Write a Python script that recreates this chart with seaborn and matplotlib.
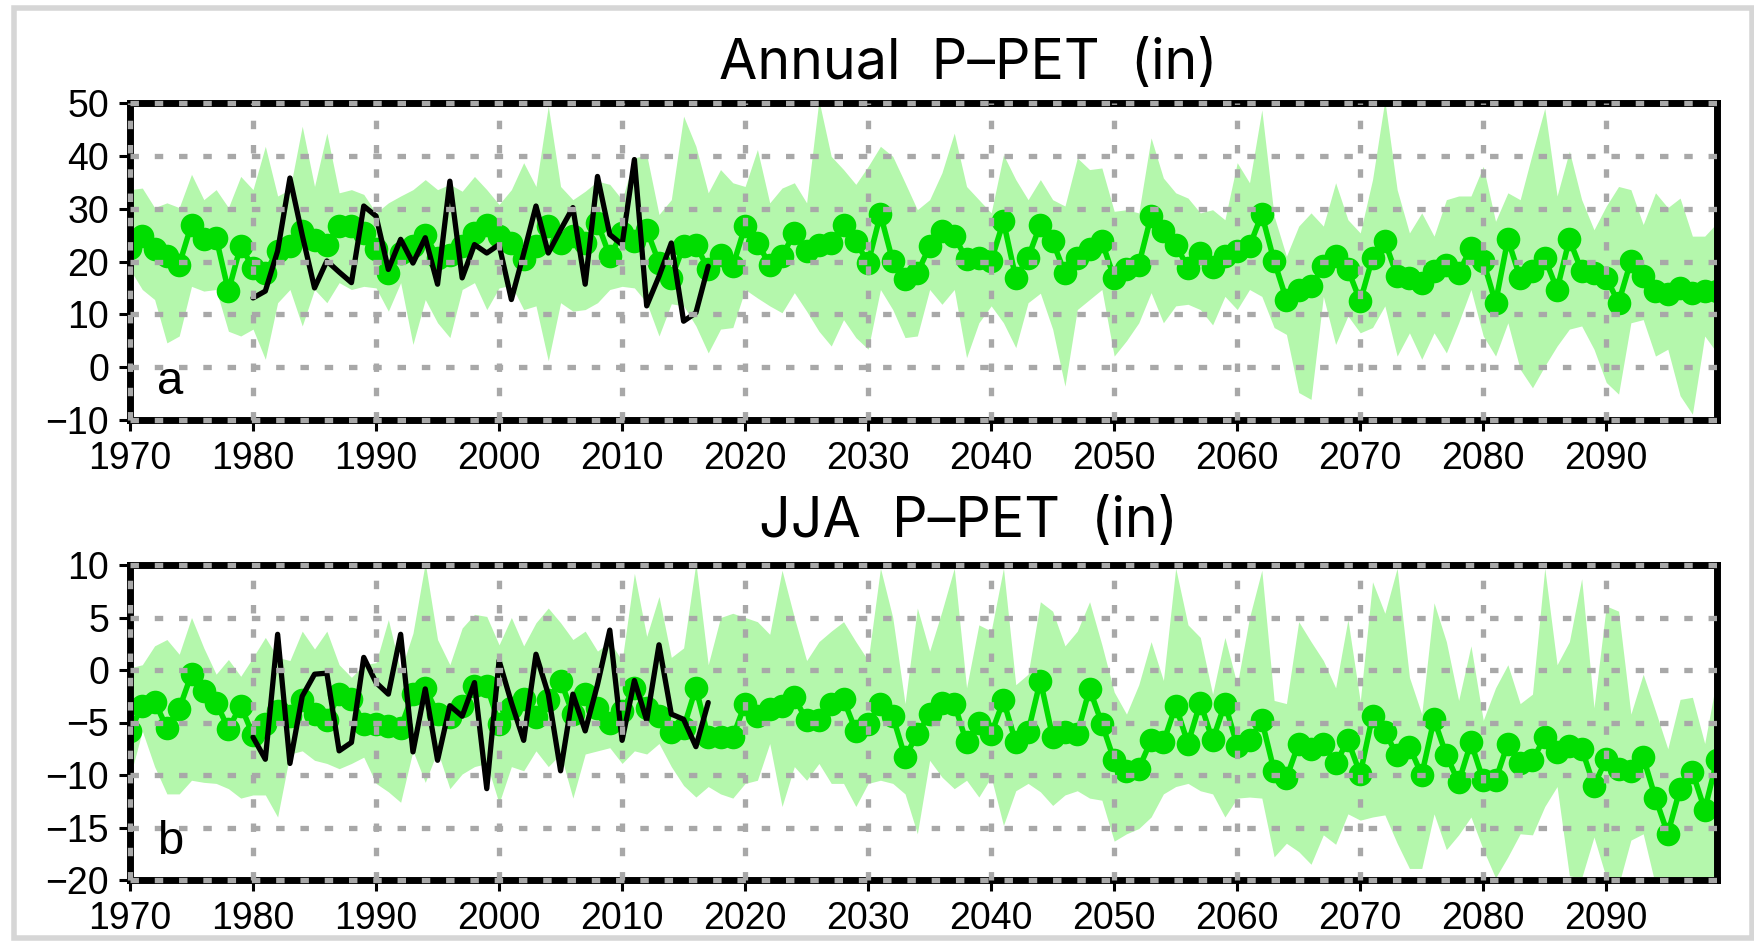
import numpy as np
import matplotlib
matplotlib.use("Agg")
import matplotlib.pyplot as plt
import matplotlib.patches as mpatches
import seaborn as sns

sns.set_style("white")
plt.rcParams['font.family'] = ['Liberation Sans', 'DejaVu Sans']
plt.rcParams['text.color'] = 'black'
plt.rcParams['xtick.color'] = 'black'
plt.rcParams['ytick.color'] = 'black'

years = np.arange(1970, 2100)
obs_years = np.arange(1980, 2018)

# ---- Annual P-PET ----
ann_mean = [
    22.5, 24.8, 22.3, 21.0, 19.4, 27.0, 24.2, 24.5, 14.4, 23.0,
    18.8, 17.9, 22.0, 22.9, 25.7, 24.0, 23.2, 26.7, 26.7, 25.4,
    22.3, 17.9, 21.6, 22.9, 25.1, 20.7, 21.3, 22.9, 25.4, 27.0,
    24.8, 23.5, 20.4, 22.9, 26.7, 23.5, 24.8, 23.5, 27.3, 21.0,
    25.4, 23.8, 26.0, 19.8, 16.8, 22.9, 23.2, 18.5, 21.3, 19.1,
    26.7, 23.5, 19.4, 21.0, 25.4, 22.0, 23.2, 23.5, 27.0, 23.8,
    19.7, 28.9, 20.1, 16.6, 17.8, 22.9, 25.7, 24.8, 20.4, 20.7,
    20.1, 27.6, 16.9, 20.7, 27.0, 23.8, 17.8, 20.7, 22.3, 23.8,
    16.9, 18.5, 19.4, 28.6, 25.7, 23.2, 18.8, 21.6, 19.0, 21.0,
    22.0, 22.9, 28.9, 20.1, 12.8, 14.7, 15.3, 19.1, 21.0, 18.5,
    12.5, 20.7, 23.8, 17.2, 16.9, 16.0, 18.2, 19.4, 17.8, 22.6,
    20.1, 12.2, 24.2, 16.9, 18.2, 20.7, 14.7, 24.2, 18.2, 17.8,
    16.9, 12.2, 20.1, 17.2, 14.4, 13.8, 15.0, 14.1, 14.4, 14.4,
]
ann_hi = [
    33.6, 33.9, 30.2, 31.1, 30.2, 36.5, 31.7, 33.6, 30.2, 36.1,
    33.6, 41.8, 32.4, 33.6, 45.6, 34.2, 44.3, 33.0, 33.6, 32.7,
    29.2, 31.1, 32.4, 33.6, 35.5, 33.6, 34.6, 33.3, 36.1, 33.6,
    30.8, 33.6, 38.7, 34.2, 49.4, 34.2, 31.7, 33.3, 35.2, 34.6,
    31.7, 39.6, 40.2, 28.9, 31.7, 47.5, 41.8, 33.0, 37.4, 34.9,
    34.2, 41.2, 31.1, 33.9, 34.9, 31.1, 50.5, 39.9, 37.4, 34.6,
    38.0, 41.8, 39.9, 34.9, 29.8, 31.7, 36.8, 44.3, 34.2, 31.7,
    29.2, 40.2, 35.5, 31.7, 35.5, 31.7, 30.5, 39.6, 37.4, 37.7,
    29.5, 29.8, 29.2, 43.4, 35.8, 33.0, 32.0, 29.2, 29.8, 27.9,
    38.7, 34.9, 48.7, 28.6, 21.0, 26.7, 29.2, 26.7, 34.9, 27.9,
    25.4, 35.5, 50.5, 33.6, 25.4, 29.2, 24.8, 31.7, 32.4, 32.4,
    38.0, 27.6, 33.0, 31.7, 40.5, 49.0, 32.4, 40.9, 31.7, 26.0,
    30.5, 34.2, 33.6, 27.0, 33.0, 30.2, 32.0, 24.8, 24.8, 27.3,
]
ann_lo = [
    18.5, 14.7, 12.8, 4.6, 5.9, 15.3, 14.4, 14.7, 6.8, 5.9,
    7.2, 1.5, 12.2, 14.7, 7.8, 14.7, 12.2, 16.0, 14.7, 15.3,
    15.0, 10.6, 16.0, 4.3, 12.8, 8.4, 5.6, 14.7, 16.0, 10.9,
    15.0, 15.5, 10.9, 11.6, 1.2, 12.2, 10.6, 10.9, 12.2, 14.7,
    15.3, 15.0, 12.2, 5.9, 12.0, 11.6, 7.8, 2.7, 7.2, 7.5,
    14.7, 13.1, 11.6, 10.3, 14.1, 10.6, 6.8, 4.0, 9.0, 5.6,
    3.4, 14.7, 10.9, 5.6, 5.9, 14.7, 11.9, 14.7, 1.8, 8.4,
    11.6, 8.4, 3.7, 12.2, 14.0, 7.2, -3.6, 10.9, 12.8, 14.7,
    2.1, 5.0, 8.4, 14.1, 8.4, 11.6, 11.9, 10.9, 8.0, 13.4,
    10.9, 14.7, 13.4, 7.5, 6.2, -4.8, -6.1, 13.4, 4.3, 9.7,
    6.5, 7.5, 11.6, 2.1, 6.5, 1.5, 6.5, 2.7, 8.4, 14.7,
    5.9, 2.1, 8.4, -0.4, -3.9, 0.2, 4.0, 7.2, 7.8, 3.4,
    -2.9, -5.1, 8.4, 9.0, 2.1, 3.4, -5.4, -8.9, 5.9, 2.7,
]
ann_obs = [
    13.1, 14.4, 22.0, 35.8, 25.0, 15.0, 20.1, 18.0, 16.0, 30.5,
    28.6, 18.5, 24.2, 19.7, 24.5, 15.7, 35.2, 16.9, 23.2, 21.6,
    23.2, 12.8, 21.5, 30.5, 21.6, 26.0, 30.2, 15.7, 36.1, 25.1,
    23.2, 39.3, 11.6, 17.2, 23.5, 8.7, 10.3, 19.1,
]

# ---- JJA P-PET ----
jja_mean = [
    -5.8, -3.4, -3.0, -5.5, -3.7, -0.4, -2.0, -3.1, -5.6, -3.4,
    -6.2, -5.1, -3.9, -4.4, -2.9, -4.2, -4.8, -2.3, -2.8, -5.1,
    -5.1, -5.3, -5.5, -2.3, -1.7, -4.2, -4.5, -3.4, -1.5, -1.5,
    -5.1, -3.6, -2.8, -4.5, -2.9, -1.0, -4.2, -2.3, -3.6, -5.0,
    -3.9, -1.7, -3.6, -4.4, -5.9, -5.5, -1.7, -6.4, -6.4, -6.4,
    -3.2, -4.4, -3.7, -3.4, -2.6, -4.8, -4.8, -3.2, -2.8, -5.8,
    -5.1, -3.2, -4.4, -8.3, -6.1, -4.2, -3.1, -3.2, -6.9, -5.0,
    -6.1, -2.9, -6.9, -5.9, -1.0, -6.4, -5.9, -6.1, -1.8, -5.1,
    -8.6, -9.6, -9.4, -6.7, -6.9, -3.4, -7.0, -3.1, -6.7, -3.2,
    -7.2, -6.7, -4.8, -9.6, -10.3, -7.0, -7.5, -7.0, -8.9, -6.7,
    -9.9, -4.4, -5.9, -8.1, -7.3, -10.0, -4.7, -8.1, -10.7, -6.9,
    -10.5, -10.5, -7.0, -8.9, -8.6, -6.4, -7.8, -7.2, -7.5, -11.0,
    -8.5, -9.4, -9.6, -8.3, -12.2, -15.6, -11.3, -9.7, -13.3, -8.6,
]
jja_hi = [
    0.2, 0.5, 2.3, 2.9, 1.5, 5.0, 2.1, -0.4, 1.0, -0.6,
    1.2, 3.1, 1.2, 0.9, 3.7, 2.0, 3.7, 0.5, -0.7, 0.5,
    0.7, 4.8, -0.1, 3.5, 10.2, 2.9, 0.5, 4.0, 5.3, 5.1,
    2.4, 5.0, 2.3, 4.5, 5.9, 4.5, 2.9, 3.7, 1.8, 2.7,
    0.9, 9.2, 3.2, 7.0, 1.2, 2.1, 10.2, 0.5, 5.0, 5.4,
    5.0, 4.6, 3.4, 9.5, 5.0, 0.9, 2.7, 3.7, 4.6, 2.7,
    0.9, 9.7, 5.0, -3.2, 5.9, 1.8, 5.6, 9.7, -1.7, 4.3,
    3.7, 9.7, -1.4, -0.4, 6.5, 5.6, 2.3, 3.7, 6.5, 2.4,
    -2.1, -4.2, -1.4, 2.7, -1.0, 9.7, 4.3, 3.1, -2.3, 3.1,
    -1.4, 5.0, 9.5, -2.9, -3.2, 4.6, 2.7, 0.9, -1.7, 4.8,
    -3.0, 8.4, 5.4, 9.7, -0.7, -4.2, 6.4, 2.7, -2.9, 2.3,
    -4.8, -1.7, 0.5, -3.2, -2.3, 9.7, 0.5, 2.7, 8.7, -3.6,
    6.1, 5.6, -4.2, -0.4, -3.9, -7.5, -2.8, -2.6, -7.0, -0.7,
]
jja_lo = [
    -10.2, -5.8, -9.2, -11.8, -11.8, -10.5, -10.7, -10.8, -11.3, -12.2,
    -11.9, -11.9, -14.0, -8.0, -7.7, -8.6, -8.9, -9.4, -8.9, -8.3,
    -10.8, -11.6, -12.6, -7.7, -10.7, -7.7, -11.3, -9.9, -9.2, -8.9,
    -12.7, -9.2, -9.6, -7.7, -9.2, -8.0, -12.2, -8.0, -7.7, -7.4,
    -8.9, -7.7, -8.0, -7.0, -9.2, -11.0, -12.1, -11.1, -11.8, -12.2,
    -10.8, -10.5, -7.0, -13.0, -9.2, -10.5, -8.9, -10.8, -10.8, -13.0,
    -10.8, -10.5, -10.8, -11.8, -15.6, -8.6, -10.2, -11.3, -10.5, -12.1,
    -10.2, -14.8, -11.5, -10.8, -11.6, -12.9, -11.9, -11.5, -12.2, -12.4,
    -16.3, -15.6, -15.1, -14.0, -11.8, -11.1, -10.8, -11.5, -11.8, -14.0,
    -12.2, -12.1, -12.2, -17.8, -16.5, -17.3, -18.5, -15.7, -16.6, -13.7,
    -14.3, -14.0, -13.8, -16.5, -18.9, -18.9, -13.7, -17.1, -15.7, -14.0,
    -17.1, -19.8, -17.8, -15.6, -15.7, -13.0, -11.1, -19.6, -19.8, -15.9,
    -19.8, -20.5, -16.2, -15.6, -20.5, -20.5, -20.5, -20.5, -20.5, -19.6,
]
jja_obs = [
    -6.4, -8.5, 3.4, -8.9, -2.5, -0.4, -0.3, -7.7, -6.9, 1.2,
    -1.2, -2.3, 3.4, -7.8, -1.8, -8.6, -3.4, -4.4, -1.2, -11.3,
    0.9, -3.1, -6.7, 1.5, -2.3, -9.6, -2.3, -5.8, -1.4, 3.8,
    -6.7, -1.0, -4.8, 2.4, -4.2, -4.7, -7.3, -3.1,
]

xticks = list(range(1970, 2100, 10))

W, H = 1754, 950
fig = plt.figure(figsize=(W / 100, H / 100), dpi=100)

# light grey frame around the picture
fig.patches.append(mpatches.Rectangle((13.5 / W, 1 - 937.5 / H), (1752 - 13.5) / W, (937.5 - 7.5) / H,
                                      transform=fig.transFigure, fill=False,
                                      edgecolor='#d6d6d6', linewidth=4.0))

ax1 = fig.add_axes([130 / W, (H - 420) / H, 1587 / W, 317 / H])
ax2 = fig.add_axes([130 / W, (H - 880) / H, 1587 / W, 315 / H])

panels = [
    (ax1, ann_mean, ann_lo, ann_hi, ann_obs, (-10, 50), list(range(-10, 51, 10)), 'a'),
    (ax2, jja_mean, jja_lo, jja_hi, jja_obs, (-20, 10), list(range(-20, 11, 5)), 'b'),
]

for ax, mean, lo, hi, obs, ylim, yticks, tag in panels:
    ax.fill_between(years, lo, hi, color='#b4f7ac', linewidth=0, zorder=1)
    sns.lineplot(x=years, y=mean, ax=ax, color='#00dd00', linewidth=4.0,
                 marker='o', markersize=17, markeredgewidth=0, zorder=3)
    sns.lineplot(x=obs_years, y=obs, ax=ax, color='black', linewidth=3.8, zorder=4)

    ax.set_xlim(1970, 2099)
    ax.set_ylim(*ylim)
    ax.set_xticks(xticks)
    ax.set_yticks(yticks)
    ax.set_xlabel('')
    ax.set_ylabel('')
    ax.tick_params(axis='both', direction='out', length=8, width=2.2,
                   color='black', labelcolor='black', labelsize=27, pad=7)
    ax.tick_params(axis='x', bottom=True)
    ax.tick_params(axis='y', left=True)

    for s in ax.spines.values():
        s.set_linewidth(5)
        s.set_color('black')
        s.set_zorder(8)

    # grey dashed grid drawn on top, also over the frame
    for yv in yticks:
        ax.axhline(yv, color='#a8a8a8', linewidth=3.8, linestyle=(0, (1.6, 3.0)),
                   dash_capstyle='butt', zorder=10, clip_on=False)
    for xv in xticks:
        ax.axvline(xv, color='#a8a8a8', linewidth=3.8, linestyle=(0, (1.6, 3.0)),
                   dash_capstyle='butt', zorder=10, clip_on=False)

    ax.text(0.017, 0.082, tag, transform=ax.transAxes, fontsize=34, color='black',
            ha='left', va='baseline', zorder=11)

fig.text(968 / W, 1 - 64 / H, 'Annual  P\u2013PET  (in)', fontsize=40,
         family=['Inter', 'DejaVu Sans'], color='black', ha='center', va='center')
fig.text(968 / W, 1 - 522 / H, 'JJA  P\u2013PET  (in)', fontsize=40,
         family=['Inter', 'DejaVu Sans'], color='black', ha='center', va='center')

fig.savefig('out.png', dpi=100)
